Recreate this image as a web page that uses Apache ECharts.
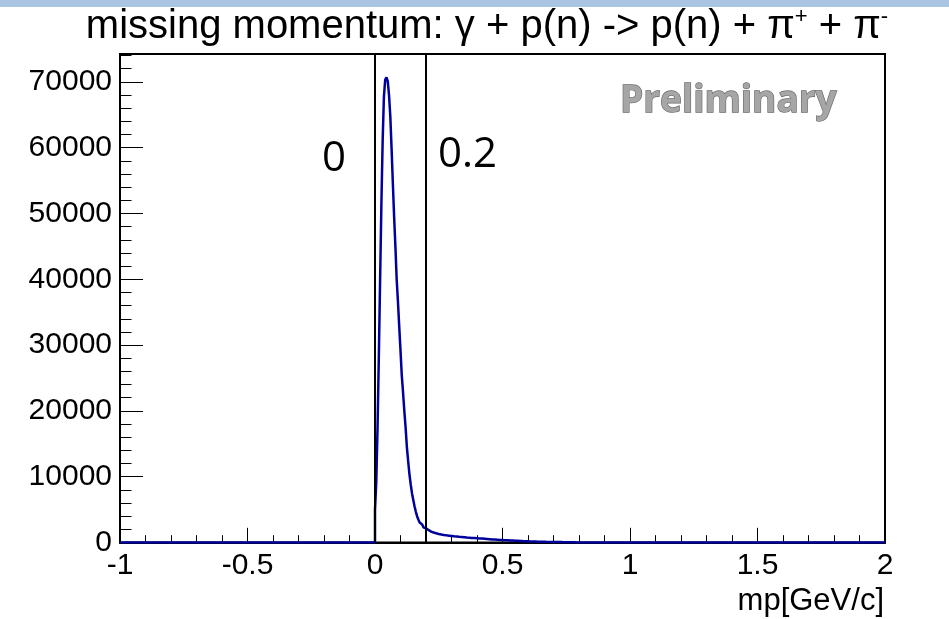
<!DOCTYPE html>
<html>
<head>
<meta charset="utf-8">
<script src="https://cdn.jsdelivr.net/npm/echarts@6/dist/echarts.min.js"></script>
<style>
html,body{margin:0;padding:0;background:#fff;}
#main{width:949px;height:619px;}
</style>
</head>
<body>
<div id="main"></div>
<script>
// Histogram binning (GeV/c)
const binStart = 0.0;
const binWidth = 0.005;
// counts per bin, from 0.000 to 0.800 GeV/c
const counts = [
  5000, 9200, 17500, 28200, 39800, 51300, 61000, 67800, 70300, 70700,
  70100, 68000, 64800, 59900, 54600, 49500, 45000, 40000, 36600, 32800,
  29200, 25400, 22800, 20000, 17500, 14500, 12400, 10400, 8850, 7500,
  6500, 5500, 4700, 4000, 3500, 3050, 2750, 2500, 2300, 2150,
  2100, 1900, 1750, 1650, 1600, 1520, 1460, 1400, 1350, 1300,
  1260, 1220, 1180, 1150, 1110, 1090, 1060, 1040, 1010, 990,
  960, 940, 920, 900, 880, 860, 850, 830, 810, 800,
  780, 760, 750, 730, 720, 700, 690, 670, 660, 640,
  630, 610, 600, 590, 570, 560, 550, 530, 520, 500,
  490, 470, 460, 450, 430, 420, 410, 390, 380, 370,
  360, 350, 340, 330, 320, 310, 300, 290, 280, 270,
  260, 250, 240, 230, 220, 210, 200, 195, 185, 180,
  170, 165, 160, 150, 145, 140, 135, 130, 125, 120,
  115, 110, 105, 100, 98, 95, 90, 86, 82, 78,
  75, 72, 68, 65, 62, 60, 56, 52, 50, 46,
  40, 36, 32, 28, 24, 20, 16, 12, 8, 4
];
const xRange = [-1, 2];
const yMax = 74235;
const cutLines = [0, 0.2];
const cutLabels = ['0', '0.2'];

const histData = [[xRange[0], 0]];
for (let i = 0; i < counts.length; i++) {
  histData.push([+(binStart + i * binWidth).toFixed(4), counts[i]]);
}
histData.push([+(binStart + counts.length * binWidth).toFixed(4), 0]);
histData.push([xRange[1], 0]);

const chart = echarts.init(document.getElementById('main'), null, {renderer: 'canvas'});
const F = 'Liberation Sans, Arial, sans-serif';

chart.setOption({
  animation: false,
  backgroundColor: '#fff',
  grid: {left: 120, right: 64, top: 54, bottom: 76.5, show: true, borderColor: '#000', borderWidth: 2, backgroundColor: 'transparent'},
  xAxis: {
    type: 'value', min: xRange[0], max: xRange[1], interval: 0.5,
    axisLine: {show: true, onZero: false, lineStyle: {color: '#000', width: 2}},
    axisTick: {show: true, inside: true, length: 14.7, lineStyle: {color: '#000', width: 1}},
    minorTick: {show: true, splitNumber: 5, length: 7.3, lineStyle: {color: '#000', width: 1}},
    splitLine: {show: false},
    axisLabel: {fontFamily: F, fontSize: 30, color: '#000', margin: 8}
  },
  yAxis: [{
    type: 'value', min: 0, max: yMax, interval: 10000,
    axisLine: {show: true, onZero: false, lineStyle: {color: '#000', width: 2}},
    axisTick: {show: true, inside: true, length: 23, lineStyle: {color: '#000', width: 1}},
    splitLine: {show: false},
    axisLabel: {fontFamily: F, fontSize: 30, color: '#000', margin: 8, showMaxLabel: false, formatter: v => String(v)}
  }, {
    type: 'value', min: 0, max: yMax, interval: 2000, position: 'left',
    axisLine: {show: false, onZero: false},
    axisTick: {show: true, inside: true, length: 11.5, lineStyle: {color: '#000', width: 1}},
    splitLine: {show: false},
    axisLabel: {show: false}
  }],
  series: [{
    type: 'line', step: 'end', data: histData, showSymbol: false, symbol: 'none',
    yAxisIndex: 0,
    lineStyle: {color: '#00009c', width: 2.5},
    markLine: {
      silent: true, symbol: ['none', 'none'], label: {show: false},
      lineStyle: {color: '#000', width: 2, type: 'solid'},
      data: cutLines.map(v => ({xAxis: v}))
    },
    z: 3
  }],
  graphic: [
    {type: 'rect', left: 0, top: 0, shape: {width: 949, height: 7}, style: {fill: '#a9c5e2'}},
    {type: 'text', x: 487, y: 6, style: {
      text: '{a|missing momentum: γ + p(n) -> p(n) + π}{s|+}{a| + π}{s|-}',
      align: 'center', verticalAlign: 'top', fill: '#000',
      rich: {
        a: {fontFamily: F, fontSize: 40, lineHeight: 42, fill: '#000'},
        s: {fontFamily: F, fontSize: 22, lineHeight: 22, verticalAlign: 'top', fill: '#000'}
      }
    }},
    {type: 'text', x: 322, y: 159, style: {text: cutLabels[0], font: '42px "Open Sans"', fill: '#000', align: 'left', verticalAlign: 'middle'}},
    {type: 'text', x: 438, y: 155, style: {text: cutLabels[1], font: '42px "Open Sans"', fill: '#000', align: 'left', verticalAlign: 'middle'}},
    {type: 'text', x: 620, y: 101, style: {
      text: 'Preliminary', font: 'bold 37px "Open Sans"', align: 'left', verticalAlign: 'middle',
      fill: '#a6a6a6', stroke: '#6a6a6a', lineWidth: 1.3
    }},
    {type: 'text', x: 884, y: 601, style: {text: 'mp[GeV/c]', font: '31px "Liberation Sans"', fill: '#000', align: 'right', verticalAlign: 'middle'}}
  ]
});
</script>
</body>
</html>
